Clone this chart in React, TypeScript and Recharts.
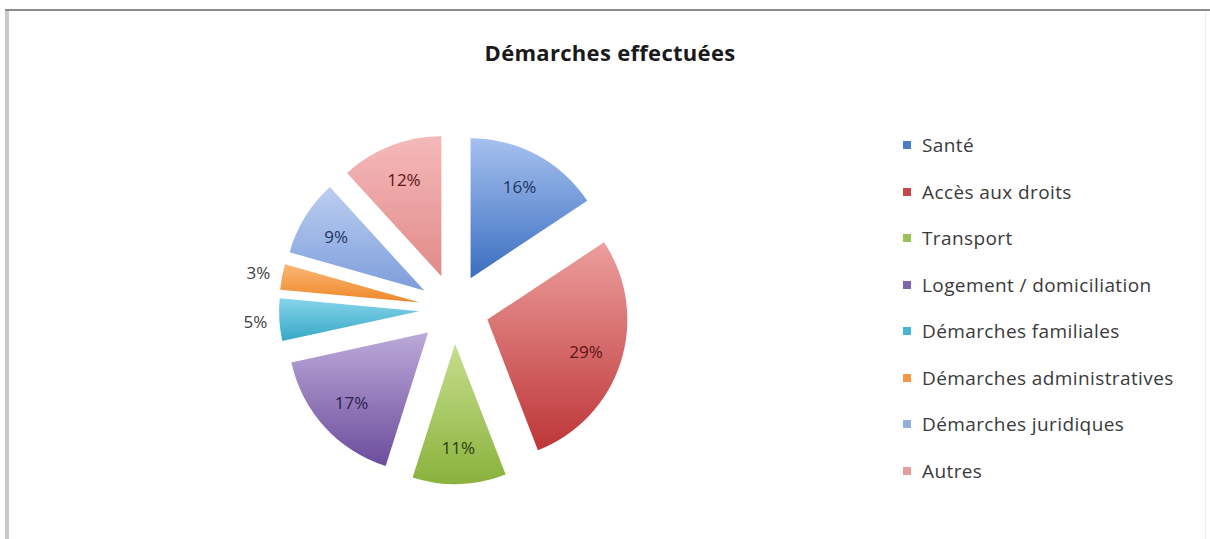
import { PieChart, Pie, Cell, Legend, Sector } from 'recharts'

const categories = [
  'Santé',
  'Accès aux droits',
  'Transport',
  'Logement / domiciliation',
  'Démarches familiales',
  'Démarches administratives',
  'Démarches juridiques',
  'Autres',
]
const percents = [16, 29, 11, 17, 5, 3, 9, 12]

// gradient top / bottom colours, legend colour, label colour
const topColors = ['#a6c1ef', '#ec9e9d', '#c6de8e', '#bcaad9', '#86d4ea', '#fbb776', '#bccef1', '#f5b9b9']
const bottomColors = ['#3a6ec0', '#be3637', '#8ab23c', '#6c4c9c', '#36a8c6', '#ee8729', '#7d9edb', '#e28a8a']
const legendColors = ['#4a7cc8', '#c8474a', '#9bc158', '#7e63ad', '#4ab5d1', '#f59743', '#92aee2', '#e89d9d']
const labelColors = ['#1d3461', '#5e1416', '#2c3c0e', '#2b1d47', '#404040', '#404040', '#1d3461', '#5e1416']

const data = categories.map((name, i) => ({ name, value: percents[i] }))

const RAD = Math.PI / 180
const CX = 449
const CY = 304
const R = 140
const EXPLODE = 35
const FONT = '"Open Sans", sans-serif'

function ExplodedSlice(props: any) {
  const { cx, cy, midAngle, innerRadius, outerRadius, startAngle, endAngle, fill } = props
  const dx = EXPLODE * Math.cos(-midAngle * RAD)
  const dy = EXPLODE * Math.sin(-midAngle * RAD)
  return (
    <Sector
      cx={cx + dx}
      cy={cy + dy}
      innerRadius={innerRadius}
      outerRadius={outerRadius}
      startAngle={startAngle}
      endAngle={endAngle}
      fill={fill}
      stroke="none"
    />
  )
}

function renderLabel(props: any) {
  const { cx, cy, midAngle, outerRadius, value, index } = props
  const outside = value < 6
  const r = outside ? EXPLODE + outerRadius + 24 : EXPLODE + outerRadius * 0.74
  const x = cx + r * Math.cos(-midAngle * RAD)
  const y = cy + r * Math.sin(-midAngle * RAD)
  return (
    <text
      x={x}
      y={y}
      textAnchor="middle"
      dominantBaseline="central"
      fill={labelColors[index]}
      fontFamily={FONT}
      fontSize={17}
    >
      {`${value}%`}
    </text>
  )
}

function LegendContent() {
  return (
    <div style={{ fontFamily: FONT, fontSize: 19, letterSpacing: 0.4, color: '#3a3a3a' }}>
      {categories.map((c, i) => (
        <div key={c} style={{ height: 46.5, display: 'flex', alignItems: 'center', whiteSpace: 'nowrap' }}>
          <span style={{ width: 8, height: 8, background: legendColors[i], marginRight: 11, display: 'inline-block' }} />
          {c}
        </div>
      ))}
    </div>
  )
}

export default function App() {
  return (
    <div style={{ position: 'absolute', left: 0, top: 0, width: 1210, height: 539, background: '#fff', overflow: 'hidden' }}>
      <div style={{ position: 'absolute', left: 5, top: 9, width: 1205, height: 2, background: '#8c8c8c' }} />
      <div style={{ position: 'absolute', left: 5, top: 11, width: 4, height: 528, background: '#c9c9c9' }} />
      <div style={{ position: 'absolute', left: 1205, top: 11, width: 1, height: 528, background: '#eeeeee' }} />
      <div
        style={{
          position: 'absolute',
          left: 0,
          top: 37,
          width: 1220,
          textAlign: 'center',
          fontFamily: FONT,
          fontWeight: 700,
          fontSize: 22,
          letterSpacing: 0.3,
          color: '#1a1a1a',
        }}
      >
        Démarches effectuées
      </div>
      <PieChart width={1210} height={539} style={{ position: 'absolute', left: 0, top: 0 }}>
        <defs>
          {categories.map((c, i) => (
            <linearGradient key={c} id={`grad${i}`} x1="0" y1="0" x2="0" y2="1">
              <stop offset="0%" stopColor={topColors[i]} />
              <stop offset="100%" stopColor={bottomColors[i]} />
            </linearGradient>
          ))}
        </defs>
        <Pie
          data={data}
          dataKey="value"
          nameKey="name"
          cx={CX}
          cy={CY}
          outerRadius={R}
          startAngle={90}
          endAngle={-270}
          stroke="none"
          shape={ExplodedSlice}
          label={renderLabel}
          labelLine={false}
          isAnimationActive={false}
        >
          {data.map((d, i) => (
            <Cell key={d.name} fill={`url(#grad${i})`} />
          ))}
        </Pie>
        <Legend
          layout="vertical"
          content={<LegendContent />}
          wrapperStyle={{ position: 'absolute', left: 903, top: 122, width: 300 }}
        />
      </PieChart>
    </div>
  )
}
